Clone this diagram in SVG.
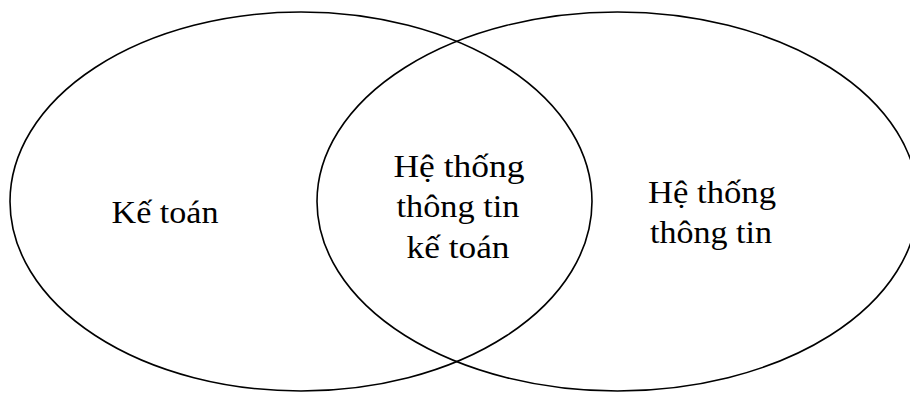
<svg xmlns="http://www.w3.org/2000/svg" width="910" height="394" viewBox="0 0 910 394">
<style>
.set{fill:none;stroke:#000;stroke-width:1.6}
.lbl{font-family:"Liberation Serif","Times New Roman",serif;font-size:32px;fill:#000;text-anchor:middle}
</style>
<rect width="910" height="394" fill="#fff"/>
<g id="ke-toan">
<ellipse class="set" cx="301" cy="201.5" rx="291" ry="189.5"/>
<text class="lbl" x="165" y="223" textLength="107" lengthAdjust="spacingAndGlyphs">Kế toán</text>
</g>
<g id="he-thong-thong-tin">
<ellipse class="set" cx="617.5" cy="201.5" rx="300.5" ry="189.5"/>
<text class="lbl" x="712" y="203" textLength="128" lengthAdjust="spacingAndGlyphs">Hệ thống</text>
<text class="lbl" x="711" y="243" textLength="122" lengthAdjust="spacingAndGlyphs">thông tin</text>
</g>
<g id="he-thong-thong-tin-ke-toan">
<text class="lbl" x="459" y="177" textLength="131" lengthAdjust="spacingAndGlyphs">Hệ thống</text>
<text class="lbl" x="458" y="217" textLength="123" lengthAdjust="spacingAndGlyphs">thông tin</text>
<text class="lbl" x="458" y="258" textLength="103" lengthAdjust="spacingAndGlyphs">kế toán</text>
</g>
<g id="connectors"></g>
</svg>
